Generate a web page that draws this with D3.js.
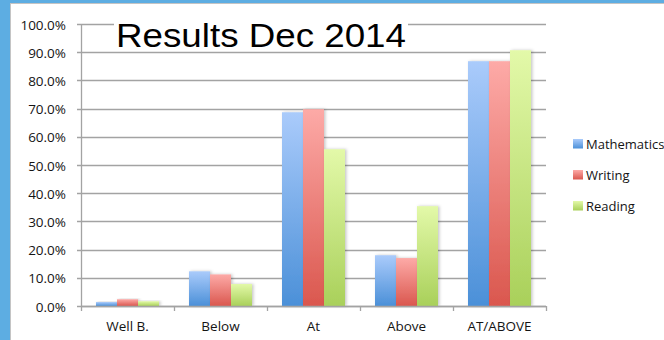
<!DOCTYPE html>
<html>
<head>
<meta charset="utf-8">
<script src="https://cdn.jsdelivr.net/npm/d3@7"></script>
<style>
  html, body { margin: 0; padding: 0; background: #5dade2; }
  svg { display: block; }
</style>
</head>
<body>
<svg id="chart" width="664" height="340"></svg>
<script>
// Proficiency categories and percentage of students in each
const categories = ["Well B.", "Below", "At", "Above", "AT/ABOVE"];
const seriesNames = ["Mathematics", "Writing", "Reading"];
const mathematics = [0.014, 0.123, 0.687, 0.180, 0.868];
const writing     = [0.024, 0.112, 0.698, 0.170, 0.868];
const reading     = [0.017, 0.078, 0.556, 0.354, 0.907];
const yTicks = [0, 0.1, 0.2, 0.3, 0.4, 0.5, 0.6, 0.7, 0.8, 0.9, 1.0];
const title = "Results Dec 2014";

const seriesValues = [mathematics, writing, reading];
const colors = {
  Mathematics: ["#aacbfb", "#4b90d8"],
  Writing:     ["#fdaaa7", "#da574e"],
  Reading:     ["#e3f9a9", "#a9d05a"]
};

const svg = d3.select("#chart");
const W = 664, H = 340;

// white panel with thin grey frame on the blue page
svg.append("rect").attr("x", 0).attr("y", 0).attr("width", W).attr("height", H).attr("fill", "#5dade2");
svg.append("rect").attr("x", 10.5).attr("y", 3.5).attr("width", W).attr("height", H)
  .attr("fill", "#ffffff").attr("stroke", "#c4c4c4").attr("stroke-width", 1);

const defs = svg.append("defs");
seriesNames.forEach((name, i) => {
  const g = defs.append("linearGradient").attr("id", "grad" + i)
    .attr("x1", 0).attr("y1", 0).attr("x2", 0).attr("y2", 1);
  g.append("stop").attr("offset", "0%").attr("stop-color", colors[name][0]);
  g.append("stop").attr("offset", "100%").attr("stop-color", colors[name][1]);
});
const shadow = defs.append("filter").attr("id", "shadow")
  .attr("x", "-30%").attr("y", "-10%").attr("width", "160%").attr("height", "120%");
shadow.append("feDropShadow").attr("dx", 1.5).attr("dy", 0).attr("stdDeviation", 1.5)
  .attr("flood-color", "#000").attr("flood-opacity", 0.22);

const plot = { left: 81, right: 546, top: 24, bottom: 306 };

const y = d3.scaleLinear().domain([0, 1]).range([plot.bottom, plot.top]);
const x0 = d3.scaleBand().domain(categories).range([plot.left, plot.right]).padding(0);
const x1 = d3.scaleBand().domain(seriesNames).range([15, x0.bandwidth() - 15]).padding(0);

const font = "'Open Sans', sans-serif";
const textColor = "#141414";

// gridlines with small outside ticks on the left
const grid = svg.append("g");
grid.selectAll("line").data(yTicks).join("line")
  .attr("x1", plot.left - 4).attr("x2", plot.right)
  .attr("y1", d => Math.round(y(d)) + 0.5).attr("y2", d => Math.round(y(d)) + 0.5)
  .attr("stroke", "#a3a3a3").attr("stroke-width", 1.3);

// y axis tick labels
svg.append("g").selectAll("text").data(yTicks).join("text")
  .attr("x", 66).attr("y", d => y(d) + 5.5)
  .attr("text-anchor", "end")
  .attr("font-family", font).attr("font-size", 13.5).attr("fill", textColor)
  .text(d3.format(".1%"));

// y axis line
svg.append("line").attr("x1", plot.left + 0.5).attr("x2", plot.left + 0.5)
  .attr("y1", plot.top).attr("y2", plot.bottom)
  .attr("stroke", "#a3a3a3").attr("stroke-width", 1.3);

// title with a white box behind it
const titleGroup = svg.append("g");
const titleBox = titleGroup.append("rect").attr("fill", "#fff");
const titleText = titleGroup.append("text")
  .attr("x", 116).attr("y", 47)
  .attr("font-family", "'Liberation Sans', Arial, sans-serif")
  .attr("font-size", 34).attr("fill", "#000")
  .attr("textLength", 290).attr("lengthAdjust", "spacingAndGlyphs")
  .text(title);
const tb = titleText.node().getBBox();
titleBox.attr("x", tb.x - 2).attr("y", tb.y + 3).attr("width", tb.width + 4).attr("height", tb.height - 10);

// bars
const groups = svg.append("g").selectAll("g").data(categories).join("g")
  .attr("transform", d => `translate(${x0(d)},0)`);
groups.selectAll("rect")
  .data((c, ci) => seriesNames.map((s, si) => ({ s, si, v: seriesValues[si][ci] })))
  .join("rect")
  .attr("x", d => x1(d.s))
  .attr("y", d => y(d.v))
  .attr("width", x1.bandwidth())
  .attr("height", d => y(0) - y(d.v))
  .attr("fill", d => `url(#grad${d.si})`)
  .attr("filter", "url(#shadow)");

// x axis line and category ticks
const xAxis = svg.append("g");
xAxis.append("line").attr("x1", plot.left).attr("x2", plot.right)
  .attr("y1", plot.bottom + 0.5).attr("y2", plot.bottom + 0.5)
  .attr("stroke", "#a3a3a3").attr("stroke-width", 1.3);
const bounds = categories.map(c => x0(c)).concat([plot.right]);
xAxis.selectAll("line.tick").data(bounds).join("line").attr("class", "tick")
  .attr("x1", d => Math.round(d) + 0.5).attr("x2", d => Math.round(d) + 0.5)
  .attr("y1", plot.bottom).attr("y2", plot.bottom + 5)
  .attr("stroke", "#a3a3a3").attr("stroke-width", 1.3);
xAxis.selectAll("text").data(categories).join("text")
  .attr("x", d => x0(d) + x0.bandwidth() / 2)
  .attr("y", 331)
  .attr("text-anchor", "middle")
  .attr("font-family", font).attr("font-size", 13.5).attr("fill", textColor)
  .text(d => d);

// legend
const legend = svg.append("g").selectAll("g").data(seriesNames).join("g")
  .attr("transform", (d, i) => `translate(573, ${139 + i * 31})`);
legend.append("rect").attr("width", 10).attr("height", 9.5)
  .attr("fill", (d, i) => `url(#grad${i})`);
legend.append("text").attr("x", 13).attr("y", 10)
  .attr("font-family", font).attr("font-size", 13).attr("fill", textColor)
  .text(d => d);
</script>
</body>
</html>
